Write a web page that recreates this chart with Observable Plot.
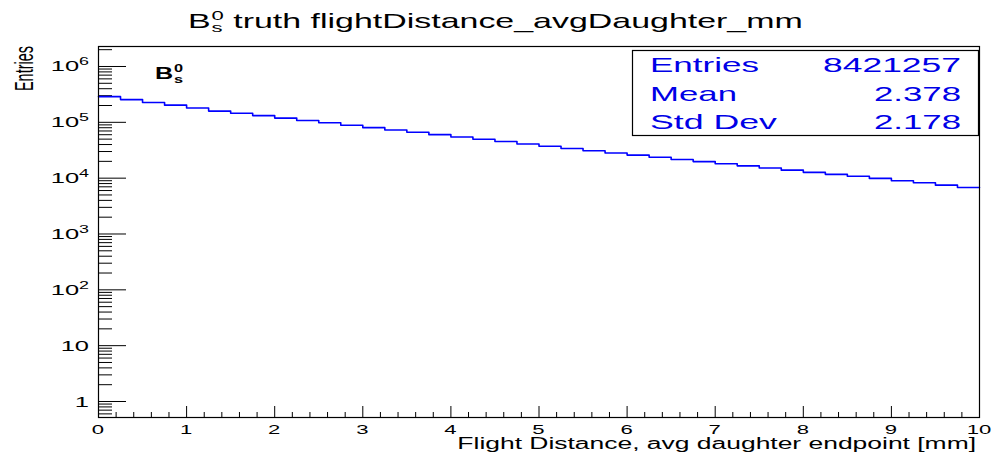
<!DOCTYPE html>
<html>
<head>
<meta charset="utf-8">
<script src="https://cdn.jsdelivr.net/npm/d3@7"></script>
<script src="https://cdn.jsdelivr.net/npm/@observablehq/plot@0.6"></script>
<style>
  html, body { margin: 0; padding: 0; background: #ffffff; }
  #chart svg { display: block; }
</style>
</head>
<body>
<div id="chart"></div>
<script>
// ---------------- data ----------------
const binEdges = [0, 0.25, 0.5, 0.75, 1, 1.25, 1.5, 1.75, 2, 2.25, 2.5, 2.75, 3, 3.25, 3.5, 3.75,
  4, 4.25, 4.5, 4.75, 5, 5.25, 5.5, 5.75, 6, 6.25, 6.5, 6.75, 7, 7.25, 7.5, 7.75,
  8, 8.25, 8.5, 8.75, 9, 9.25, 9.5, 9.75, 10];
const binCounts = [288000, 255000, 227000, 203000, 180000, 159000, 145000, 132000, 119000, 108000,
  98000, 88800, 80300, 72800, 66200, 60200, 54700, 49900, 45300, 41000,
  37300, 33900, 30900, 28200, 25900, 23700, 21600, 19800, 18100, 16600,
  15200, 13900, 12700, 11700, 10800, 9900, 9000, 8300, 7500, 6800];

const xTickValues = [0, 1, 2, 3, 4, 5, 6, 7, 8, 9, 10];
const xTickLabels = ["0", "1", "2", "3", "4", "5", "6", "7", "8", "9", "10"];
const yTickValues = [1, 10, 100, 1000, 10000, 100000, 1000000];
const yTickBase = ["1", "10", "10", "10", "10", "10", "10"];
const yTickExp = ["", "", "2", "3", "4", "5", "6"];

const statNames = ["Entries", "Mean", "Std Dev"];
const statValues = ["8421257", "2.378", "2.178"];

const particleBase = "B", particleSup = "0", particleSub = "s";
const titleRest = "truth flightDistance_avgDaughter_mm";
const xTitle = "Flight Distance, avg daughter endpoint [mm]";
const yTitle = "Entries";

// ---------------- layout ----------------
const W = 995, H = 456;
const mL = 98, mR = 16, mT = 46, mB = 39;
const fw = W - mL - mR, fh = H - mT - mB;
const lineBlue = "#0000ff";
const statBlue = "#0000e6";

// histogram outline points built from the bins
const histPoints = binCounts.map((c, i) => ({x: binEdges[i], y: c}));
histPoints.push({x: binEdges[binEdges.length - 1], y: binCounts[binCounts.length - 1]});

// minor ticks
const xMinor = d3.range(0, 10, 0.2).filter(v => Math.abs(v - Math.round(v)) > 1e-6);
const yDomain = [0.517, 2.28e6];
const yMinor = [0.1, ...yTickValues].flatMap(d => [2, 3, 4, 5, 6, 7, 8, 9].map(m => m * d))
  .filter(v => v > yDomain[0] && v < yDomain[1]);

const plot = Plot.plot({
  width: W, height: H,
  marginLeft: mL, marginRight: mR, marginTop: mT, marginBottom: mB,
  style: {background: "#ffffff", fontFamily: "'Liberation Sans', Arial, Helvetica, sans-serif"},
  x: {domain: [0, 10], axis: null},
  y: {type: "log", domain: yDomain, axis: null},
  marks: [
    Plot.ruleY(yMinor, {y: d => d, insetRight: fw - 14, stroke: "#000", strokeWidth: 1}),
    Plot.ruleY(yTickValues, {y: d => d, insetRight: fw - 28, stroke: "#000", strokeWidth: 1}),
    Plot.ruleX(xMinor, {x: d => d, insetTop: fh - 5, stroke: "#000", strokeWidth: 1}),
    Plot.ruleX(xTickValues, {x: d => d, insetTop: fh - 11, stroke: "#000", strokeWidth: 1}),
    Plot.line(histPoints, {x: "x", y: "y", curve: "step-after", stroke: lineBlue, strokeWidth: 1.6}),
    Plot.frame({stroke: "#000", strokeWidth: 1.2})
  ]
});
document.getElementById("chart").appendChild(plot);

const svg = d3.select(plot);
const xs = plot.scale("x"), ys = plot.scale("y");
const g = svg.append("g").attr("fill", "#000").attr("text-anchor", "start");

function addText(parent, str, o) {
  const t = parent.append("text")
    .attr("font-size", o.size)
    .attr("font-weight", o.weight || "normal")
    .attr("fill", o.fill || "#000")
    .attr("text-anchor", o.anchor || "start")
    .text(str);
  let s = o.sx || 1;
  if (o.width != null) s = o.width / t.node().getComputedTextLength();
  t.attr("transform", `translate(${o.x},${o.y}) scale(${s},1)` + (o.rotate ? ` rotate(${o.rotate})` : ""));
  return t;
}

// x tick labels
xTickValues.forEach((v, i) => {
  addText(g, xTickLabels[i], {x: xs.apply(v), y: 433.5, size: 13, anchor: "middle", sx: 1.7});
});

// y tick labels (10 with superscript exponent)
yTickValues.forEach((v, i) => {
  const py = ys.apply(v);
  const t = g.append("text")
    .attr("font-size", 15)
    .attr("text-anchor", "end")
    .attr("transform", `translate(89,${py + 5.5}) scale(1.7,1)`);
  t.append("tspan").text(yTickBase[i]);
  if (yTickExp[i]) t.append("tspan").attr("font-size", 10.5).attr("dy", -6).text(yTickExp[i]);
});

// axis titles
addText(g, xTitle, {x: 976, y: 449, size: 16, anchor: "end", width: 519});
addText(g, yTitle, {x: 33, y: 68.5, size: 14.5, anchor: "middle", sx: 1.8, rotate: -90});

// particle symbol builder: base letter with stacked super/subscript
function particle(parent, o) {
  const grp = parent.append("g").attr("text-anchor", "start");
  const b = grp.append("text").attr("text-anchor", "start").attr("font-size", o.size)
    .attr("font-weight", o.weight).text(particleBase);
  const bw = b.node().getComputedTextLength();
  const sp = grp.append("text").attr("text-anchor", "start").attr("font-size", o.small)
    .attr("font-weight", o.weight).attr("x", bw + 0.5).attr("y", o.supY).text(particleSup);
  const sb = grp.append("text").attr("text-anchor", "start").attr("font-size", o.small)
    .attr("font-weight", o.weight).attr("x", bw + 0.5).attr("y", o.subY).text(particleSub);
  const scriptW = Math.max(sp.node().getComputedTextLength(), sb.node().getComputedTextLength());
  if (o.rest) {
    grp.append("text").attr("text-anchor", "start").attr("font-size", o.size)
      .attr("x", bw + 0.5 + scriptW + o.size * 0.28).text(o.rest);
  }
  const w = grp.node().getBBox().width;
  const s = o.width / w;
  grp.attr("transform", `translate(${o.x},${o.y}) scale(${s},1)`);
  return grp;
}

// main title
particle(g, {x: 188, y: 28.3, size: 20, small: 13, weight: "normal", supY: -8.3, subY: 3.4,
  rest: titleRest, width: 615});

// in-frame label
particle(g, {x: 155, y: 79, size: 17, small: 11, weight: "bold", supY: -7.3, subY: 4, width: 28});

// statistics box
const sbox = svg.append("g").attr("text-anchor", "start");
sbox.append("rect").attr("x", 632.5).attr("y", 50.5).attr("width", 346).attr("height", 85)
  .attr("fill", "#ffffff").attr("stroke", "#000").attr("stroke-width", 1.2);
const statBase = [72, 101, 128.5];
const statNameW = [109, 87, 127];
const statValW = [138, 87, 87];
statNames.forEach((n, i) => {
  addText(sbox, n, {x: 650, y: statBase[i], size: 20, fill: statBlue, width: statNameW[i]});
  addText(sbox, statValues[i], {x: 961, y: statBase[i], size: 20, anchor: "end", fill: statBlue, width: statValW[i]});
});
</script>
</body>
</html>
